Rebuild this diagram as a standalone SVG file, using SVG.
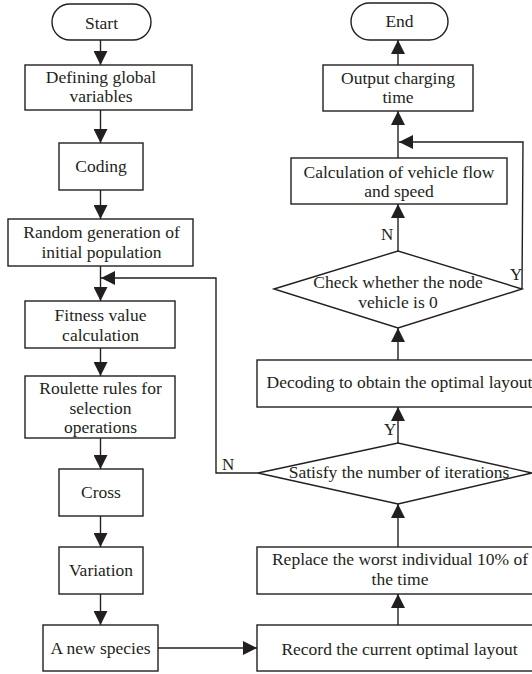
<svg xmlns="http://www.w3.org/2000/svg" width="532" height="674" viewBox="0 0 532 674">
<style>
.n{fill:#fff;stroke:#231f20;stroke-width:1.4}
.t{font-family:'Liberation Serif',serif;font-size:17.5px;fill:#231f20;text-anchor:middle}
.l{font-family:'Liberation Serif',serif;font-size:17px;fill:#231f20}
.c{fill:none;stroke:#231f20;stroke-width:1.4}
</style>
<defs>
<marker id="a" markerUnits="userSpaceOnUse" markerWidth="14" markerHeight="14" refX="14" refY="7" orient="auto" viewBox="0 0 14 14">
<path d="M0,0 L14,7 L0,14 z" fill="#231f20"/>
</marker>
</defs>
<rect width="532" height="674" fill="#fff"/>
<g id="connectors" font-family="Liberation Serif, serif">
<line class="c" x1="100.5" y1="40" x2="100.5" y2="65" marker-end="url(#a)"/>
<line class="c" x1="100.5" y1="110" x2="100.5" y2="143" marker-end="url(#a)"/>
<line class="c" x1="100.5" y1="190" x2="100.5" y2="219" marker-end="url(#a)"/>
<line class="c" x1="100.5" y1="266" x2="100.5" y2="301" marker-end="url(#a)"/>
<line class="c" x1="100.5" y1="348" x2="100.5" y2="376" marker-end="url(#a)"/>
<line class="c" x1="100.5" y1="438" x2="100.5" y2="469" marker-end="url(#a)"/>
<line class="c" x1="100.5" y1="516" x2="100.5" y2="547" marker-end="url(#a)"/>
<line class="c" x1="100.5" y1="594" x2="100.5" y2="625" marker-end="url(#a)"/>
<line class="c" x1="158" y1="648" x2="257" y2="648" marker-end="url(#a)"/>
<line class="c" x1="398" y1="625" x2="398" y2="594" marker-end="url(#a)"/>
<line class="c" x1="398" y1="547" x2="398" y2="504" marker-end="url(#a)"/>
<line class="c" x1="398" y1="443" x2="398" y2="407" marker-end="url(#a)"/>
<line class="c" x1="398" y1="360" x2="398" y2="328" marker-end="url(#a)"/>
<line class="c" x1="398" y1="251" x2="398" y2="204" marker-end="url(#a)"/>
<line class="c" x1="398" y1="158" x2="398" y2="111" marker-end="url(#a)"/>
<line class="c" x1="398" y1="65" x2="398" y2="40" marker-end="url(#a)"/>
<polyline class="c" points="258,473 216,473 216,278 101,278" marker-end="url(#a)"/>
<polyline class="c" points="522,289 523,142 399,142" marker-end="url(#a)"/>
<text class="l" x="222" y="470">N</text>
<text class="l" x="384" y="435">Y</text>
<text class="l" x="381" y="240">N</text>
<text class="l" x="510" y="280">Y</text>
</g>
<g font-family="Liberation Serif, serif">
<g id="start"><rect class="n" x="52" y="4" width="99" height="36" rx="18"/><text class="t" x="101.5" y="29">Start</text></g>
<g id="defining"><rect class="n" x="25" y="65" width="167" height="45"/><text class="t" x="101" y="83">Defining global</text><text class="t" x="101" y="102">variables</text></g>
<g id="coding"><rect class="n" x="59" y="143" width="84" height="47"/><text class="t" x="101" y="172">Coding</text></g>
<g id="random"><rect class="n" x="8" y="219" width="185" height="47"/><text class="t" x="101.5" y="238">Random generation of</text><text class="t" x="101.5" y="258">initial population</text></g>
<g id="fitness"><rect class="n" x="25" y="301" width="150" height="47"/><text class="t" x="100.5" y="321">Fitness value</text><text class="t" x="100.5" y="341">calculation</text></g>
<g id="roulette"><rect class="n" x="25" y="376" width="150" height="62"/><text class="t" x="100.5" y="394">Roulette rules for</text><text class="t" x="100.5" y="414">selection</text><text class="t" x="100.5" y="433">operations</text></g>
<g id="cross"><rect class="n" x="59" y="469" width="84" height="47"/><text class="t" x="101" y="498">Cross</text></g>
<g id="variation"><rect class="n" x="59" y="547" width="84" height="47"/><text class="t" x="101" y="576">Variation</text></g>
<g id="newspecies"><rect class="n" x="43" y="625" width="115" height="46"/><text class="t" x="100.5" y="654">A new species</text></g>
<g id="record"><rect class="n" x="257" y="625" width="280" height="46"/><text class="t" x="399.5" y="655">Record the current optimal layout</text></g>
<g id="replace"><rect class="n" x="257" y="547" width="280" height="47"/><text class="t" x="400" y="565">Replace the worst individual 10% of</text><text class="t" x="400" y="585">the time</text></g>
<g id="satisfy"><polygon class="n" points="258,473 398,443 532,473 398,504"/><text class="t" x="399" y="478">Satisfy the number of iterations</text></g>
<g id="decoding"><rect class="n" x="257" y="360" width="280" height="47"/><text class="t" x="399.5" y="388">Decoding to obtain the optimal layout</text></g>
<g id="check"><polygon class="n" points="274,289 398,251 522,289 398,328"/><text class="t" x="398" y="288">Check whether the node</text><text class="t" x="398" y="308">vehicle is 0</text></g>
<g id="calc"><rect class="n" x="291" y="158" width="216" height="46"/><text class="t" x="399" y="178">Calculation of vehicle flow</text><text class="t" x="399" y="197">and speed</text></g>
<g id="output"><rect class="n" x="323" y="65" width="150" height="46"/><text class="t" x="398" y="84">Output charging</text><text class="t" x="398" y="103">time</text></g>
<g id="end"><rect class="n" x="351" y="3" width="97" height="37" rx="18.5"/><text class="t" x="399.5" y="27">End</text></g>
</g>
</svg>
